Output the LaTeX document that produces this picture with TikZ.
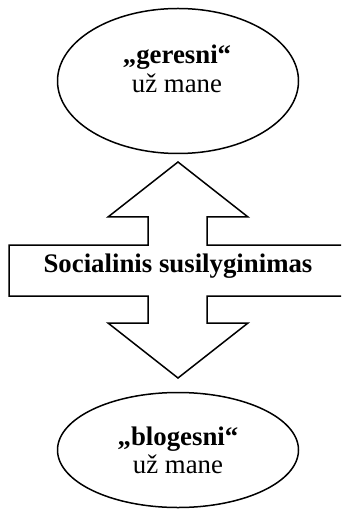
\documentclass[tikz,border=0pt]{standalone}
\usepackage{fontspec}
\setmainfont{Liberation Serif}
\usetikzlibrary{shapes.geometric}
\tikzset{
  oval/.style={draw, line width=1.5pt, shape=ellipse, inner sep=0pt, minimum width=241pt},
  lbl/.style={anchor=base, inner sep=0pt, font=\fontsize{26.8}{28}\selectfont},
  bolbl/.style={lbl, font=\fontsize{26.8}{28}\selectfont\bfseries},
  outline/.style={draw, line width=1.5pt, line join=miter}
}
\begin{document}
\begin{tikzpicture}[x=1pt, y=-1pt]
\useasboundingbox (0,0) rectangle (341,510);
\clip (0,0) rectangle (341,510);
\node[oval, minimum height=145pt] (top) at (178,81) {};
\node[oval, minimum height=115pt] (bot) at (178,450) {};
\node[bolbl] (t1) at (177,64) {„geresni“};
\node[lbl] (t2) at (177,93) {už mane};
\node[bolbl] (b1) at (178,445) {„blogesni“};
\node[lbl] (b2) at (178,473) {už mane};
\draw[outline] (350,245) -- (207,245) -- (207,217) -- (248,217) -- (178,162)
  -- (108,217) -- (148,217) -- (148,245) -- (9,245) -- (9,296) -- (148,296)
  -- (148,323) -- (108,323) -- (178,378) -- (248,323) -- (207,323) -- (207,296) -- (350,296);
\node[bolbl] (mid) at (178,272) {Socialinis susilyginimas};
\end{tikzpicture}
\end{document}
